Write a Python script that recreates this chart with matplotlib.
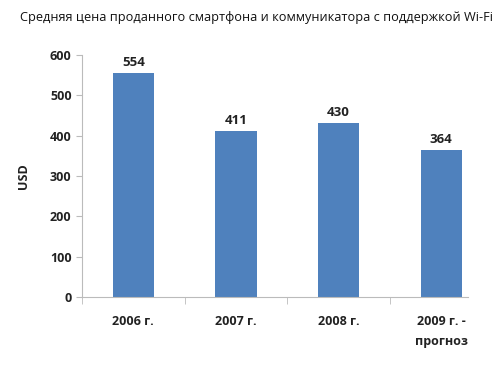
import numpy as np
import matplotlib.pyplot as plt

# data
years = ["2006 г.", "2007 г.", "2008 г.", "2009 г. -\nпрогноз"]
prices = [554, 411, 430, 364]
yticks = [0, 100, 200, 300, 400, 500, 600]

plt.rcParams['font.family'] = ['Open Sans', 'DejaVu Sans']

fig = plt.figure(figsize=(5.0, 3.68), dpi=100)
ax = fig.add_axes([0.164, 0.193, 0.772, 0.658])

x = np.arange(len(years))
ax.bar(x, prices, width=0.4, color="#4F81BD", zorder=2)

for xi, v in zip(x, prices):
    ax.text(xi, v + 10, str(v), ha="center", va="bottom",
            fontsize=9.5, fontweight="bold", color="#222222")

ax.set_xlim(-0.5, 3.26)
ax.set_ylim(0, 600)
ax.set_yticks(yticks)
ax.set_xticks(x)
ax.set_xticklabels(years, fontsize=9, fontweight="bold", color="#222222",
                   linespacing=1.7)
ax.set_xticks(np.arange(-0.5, 3.0, 1.0), minor=True)
ax.tick_params(axis="x", which="major", length=0, pad=13)
ax.tick_params(axis="x", which="minor", length=5, color="#bbbbbb")
ax.tick_params(axis="y", length=4, color="#bbbbbb", labelsize=9)
for lab in ax.get_yticklabels():
    lab.set_fontweight("bold")
    lab.set_color("#222222")

ax.set_ylabel("USD", fontsize=9, fontweight="bold", color="#222222", labelpad=14)

for s in ["top", "right"]:
    ax.spines[s].set_visible(False)
ax.spines["left"].set_color("#bbbbbb")
ax.spines["bottom"].set_color("#bbbbbb")

fig.text(0.04, 0.953, "Средняя цена проданного смартфона и коммуникатора с поддержкой Wi-Fi",
         fontsize=9.2, color="#111111", va="center")

fig.savefig("out.png", dpi=100)
